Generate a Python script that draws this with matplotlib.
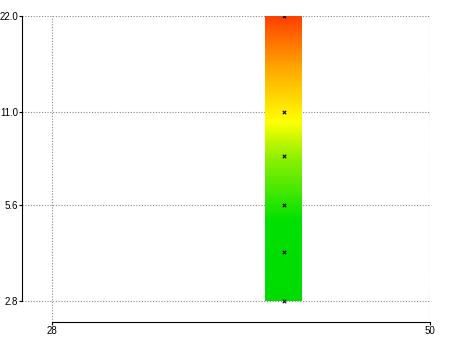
import numpy as np
import matplotlib.pyplot as plt
from matplotlib.colors import LinearSegmentedColormap

# data
x_pos = 41.5
bar_width = 2.15
y_values = [2.8, 4.0, 5.6, 8.0, 11.0, 22.0]
y_ticks = [2.8, 5.6, 11.0, 22.0]
x_ticks = [28, 50]

plt.rcParams['font.family'] = ['Liberation Sans', 'DejaVu Sans']

fig = plt.figure(figsize=(4.5, 3.37), dpi=100)
ax = fig.add_axes([22 / 450, 1 - 322 / 337, 408 / 450, 306 / 337])

# green -> yellow -> red gradient along the bar (log scale)
cmap = LinearSegmentedColormap.from_list('gyr', [
    (0.0, (0.0, 0.86, 0.0)),
    (0.28, (0.0, 0.88, 0.0)),
    (0.50, (0.55, 0.94, 0.0)),
    (0.63, (1.0, 1.0, 0.0)),
    (0.82, (1.0, 0.65, 0.0)),
    (1.0, (1.0, 0.25, 0.0)),
])
lo, hi = np.log2(min(y_values)), np.log2(max(y_values))
n = 300
edges = np.logspace(lo, hi, n + 1, base=2)
for i in range(n):
    ax.bar(x_pos, edges[i + 1] - edges[i], bottom=edges[i], width=bar_width,
           color=cmap((i + 0.5) / n), linewidth=0, zorder=2)

ax.scatter([x_pos] * len(y_values), y_values, marker='x', s=6, c='black',
           linewidths=0.8, zorder=3)

ax.set_yscale('log')
ax.set_xlim(28 - 30 / 17.18, 50)
ax.set_ylim(2.8 / 2 ** (21 / 95.5), 22.0)
ax.set_yticks(y_ticks)
ax.set_yticklabels([f'{v:.1f}' for v in y_ticks])
ax.minorticks_off()
ax.set_xticks(x_ticks)
ax.set_xticklabels([str(v) for v in x_ticks])

ax.grid(True, linestyle=(0, (1, 1.5)), color='#888888', linewidth=0.8, zorder=1)
ax.set_axisbelow(True)
for s in ['top', 'right']:
    ax.spines[s].set_visible(False)
ax.spines['left'].set_bounds(2.8, 22.0)
ax.spines['bottom'].set_bounds(28, 50)
ax.tick_params(axis='both', labelsize=7, length=2, width=0.8, pad=1)

fig.savefig('out.png', dpi=100)
